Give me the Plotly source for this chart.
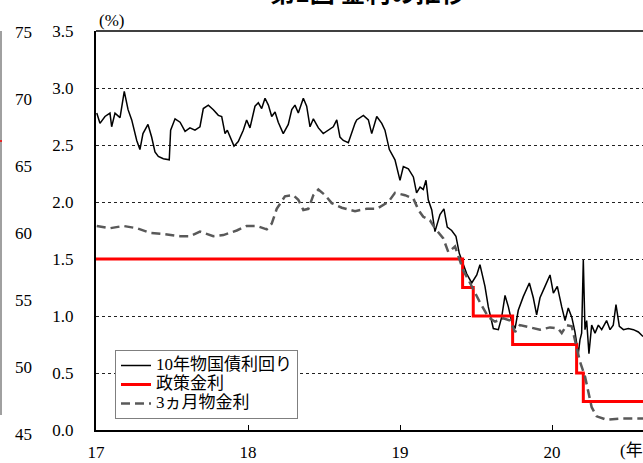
import plotly.graph_objects as go

# ---- data (decimal years, %) ----
bond_t = [2017.005, 2017.026, 2017.059, 2017.092, 2017.103, 2017.125, 2017.158, 2017.169, 2017.186, 2017.211,
          2017.235, 2017.268, 2017.289, 2017.309, 2017.342, 2017.366, 2017.388, 2017.410, 2017.443, 2017.482,
          2017.491, 2017.520, 2017.553, 2017.586, 2017.618, 2017.651, 2017.684, 2017.706, 2017.739, 2017.772,
          2017.805, 2017.827, 2017.849, 2017.864, 2017.893, 2017.908, 2017.936, 2017.969, 2017.991, 2018.013,
          2018.046, 2018.068, 2018.090, 2018.112, 2018.134, 2018.156, 2018.178, 2018.199, 2018.232, 2018.265,
          2018.288, 2018.309, 2018.331, 2018.364, 2018.386, 2018.408, 2018.430, 2018.463, 2018.495, 2018.528,
          2018.561, 2018.584, 2018.605, 2018.627, 2018.660, 2018.704, 2018.715, 2018.759, 2018.792, 2018.814,
          2018.847, 2018.880, 2018.901, 2018.930, 2018.967, 2019.000, 2019.022, 2019.055, 2019.088, 2019.109,
          2019.132, 2019.153, 2019.171, 2019.186, 2019.209, 2019.230, 2019.263, 2019.289, 2019.311, 2019.340,
          2019.368, 2019.390, 2019.416, 2019.439, 2019.472, 2019.505, 2019.526, 2019.559, 2019.581, 2019.614,
          2019.647, 2019.669, 2019.691, 2019.713, 2019.735, 2019.757, 2019.778, 2019.811, 2019.851, 2019.877,
          2019.899, 2019.921, 2019.954, 2019.987, 2020.009, 2020.035, 2020.064, 2020.086, 2020.107, 2020.130,
          2020.151, 2020.173, 2020.184, 2020.195, 2020.206, 2020.217, 2020.228, 2020.243, 2020.261, 2020.283,
          2020.305, 2020.327, 2020.359, 2020.382, 2020.403, 2020.421, 2020.443, 2020.470, 2020.502, 2020.536,
          2020.568, 2020.599]
bond_10y = [2.78, 2.69, 2.75, 2.78, 2.66, 2.78, 2.74, 2.82, 2.97, 2.81,
            2.72, 2.54, 2.46, 2.60, 2.68, 2.57, 2.44, 2.40, 2.38, 2.37,
            2.63, 2.73, 2.70, 2.62, 2.65, 2.63, 2.66, 2.82, 2.85, 2.81,
            2.76, 2.75, 2.60, 2.63, 2.53, 2.49, 2.53, 2.63, 2.72, 2.65,
            2.84, 2.87, 2.82, 2.91, 2.85, 2.75, 2.79, 2.70, 2.60, 2.68,
            2.81, 2.85, 2.78, 2.91, 2.84, 2.66, 2.73, 2.65, 2.60, 2.63,
            2.66, 2.72, 2.57, 2.54, 2.52, 2.69, 2.72, 2.76, 2.72, 2.60,
            2.75, 2.69, 2.63, 2.46, 2.37, 2.19, 2.31, 2.29, 2.22, 2.08,
            2.13, 2.11, 2.19, 2.02, 1.93, 1.74, 1.89, 1.94, 1.78, 1.75,
            1.70, 1.55, 1.46, 1.37, 1.29, 1.36, 1.45, 1.26, 1.08, 0.89,
            0.88, 0.99, 1.18, 1.08, 0.95, 0.89, 1.05, 1.17, 1.29, 1.16,
            1.01, 1.16, 1.26, 1.36, 1.20, 1.26, 1.08, 0.96, 1.07, 0.99,
            0.86, 0.67, 0.79, 0.85, 1.49, 0.88, 0.96, 0.67, 0.92, 0.85,
            0.92, 0.88, 0.96, 0.88, 0.92, 1.10, 0.91, 0.88, 0.89, 0.88,
            0.86, 0.82]

policy_t = [2017.0, 2019.412, 2019.482, 2019.741, 2020.162, 2020.206, 2020.599]
policy_rate = [1.50, 1.25, 1.00, 0.75, 0.50, 0.25, 0.25]

bill_t = [2017.005, 2017.092, 2017.180, 2017.268, 2017.355, 2017.443, 2017.553, 2017.618, 2017.684, 2017.772,
          2017.838, 2017.926, 2017.991, 2018.057, 2018.123, 2018.156, 2018.189, 2018.243, 2018.298, 2018.331,
          2018.364, 2018.397, 2018.430, 2018.463, 2018.507, 2018.551, 2018.617, 2018.704, 2018.781, 2018.847,
          2018.923, 2018.967, 2019.033, 2019.088, 2019.121, 2019.153, 2019.197, 2019.230, 2019.285, 2019.318,
          2019.362, 2019.384, 2019.416, 2019.449, 2019.493, 2019.526, 2019.581, 2019.625, 2019.680, 2019.724,
          2019.757, 2019.789, 2019.855, 2019.921, 2019.987, 2020.041, 2020.064, 2020.097, 2020.130, 2020.151,
          2020.184, 2020.217, 2020.239, 2020.261, 2020.294, 2020.359, 2020.447, 2020.535, 2020.599]
bill_3m = [1.79, 1.77, 1.79, 1.77, 1.73, 1.72, 1.70, 1.70, 1.74, 1.70,
           1.71, 1.75, 1.79, 1.79, 1.76, 1.81, 1.94, 2.05, 2.06, 2.02,
           1.93, 1.94, 2.06, 2.11, 2.06, 1.99, 1.95, 1.92, 1.94, 1.94,
           2.00, 2.08, 2.06, 2.03, 1.93, 1.87, 1.84, 1.77, 1.68, 1.56,
           1.61, 1.52, 1.40, 1.32, 1.20, 1.12, 0.99, 0.95, 0.98, 0.96,
           0.86, 0.92, 0.90, 0.88, 0.90, 0.89, 0.85, 0.92, 0.91, 0.79,
           0.60, 0.47, 0.32, 0.20, 0.12, 0.09, 0.10, 0.10, 0.10]

names = ["10年物国債利回り", "政策金利", "3ヵ月物金利"]
x_tickvals = [2017, 2018, 2019, 2020]
x_ticktext = ["17", "18", "19", "20"]
y_tickvals = [0.0, 0.5, 1.0, 1.5, 2.0, 2.5, 3.0, 3.5]
y_ticktext = ["0.0", "0.5", "1.0", "1.5", "2.0", "2.5", "3.0", "3.5"]
side_ticks = [75, 70, 65, 60, 55, 50, 45]  # labels of the neighbouring (cropped) chart

FONT = "Liberation Serif, Times New Roman, Noto Sans CJK JP, serif"

W, H = 643, 463
ML, MT, MB = 96, 31, 33
PW, PH = W - ML, H - MT - MB

def legend_label(s):
    return '<span style="font-size:17px">' + s + '</span>'

fig = go.Figure()
fig.add_trace(go.Scatter(x=bond_t, y=bond_10y, mode="lines", name=legend_label(names[0]),
                         line=dict(color="#000000", width=1.5)))
fig.add_trace(go.Scatter(x=policy_t, y=policy_rate, mode="lines", name=legend_label(names[1]),
                         line=dict(color="#ff0000", width=3, shape="hv")))
fig.add_trace(go.Scatter(x=bill_t, y=bill_3m, mode="lines", name=legend_label(names[2]),
                         line=dict(color="#595959", width=2.5, dash="9px,5px")))

def px_to_paper_x(px):
    return (px - ML) / PW

def px_to_paper_y(py):
    return (H - MB - py) / PH

annotations = [
    dict(text="(%)", x=px_to_paper_x(97), y=px_to_paper_y(21), xref="paper", yref="paper",
         xanchor="left", yanchor="middle", showarrow=False, font=dict(family=FONT, size=17, color="#000")),
    dict(text="(年)", x=px_to_paper_x(618), y=px_to_paper_y(450), xref="paper", yref="paper",
         xanchor="left", yanchor="middle", showarrow=False, font=dict(family=FONT, size=17, color="#000")),
    dict(text="<b>第1図 金利の推移</b>", x=px_to_paper_x(367), y=px_to_paper_y(11), xref="paper", yref="paper",
         xanchor="center", yanchor="bottom", showarrow=False,
         font=dict(family="Noto Sans CJK JP, sans-serif", size=25, color="#000")),
]
for v in side_ticks:
    py = 32 + (75 - v) * 13.4
    annotations.append(dict(text=str(v), x=px_to_paper_x(34), y=px_to_paper_y(py), xref="paper", yref="paper",
                            xanchor="right", yanchor="middle", showarrow=False,
                            font=dict(family=FONT, size=17, color="#000")))

shapes = [
    dict(type="line", xref="paper", yref="paper", x0=0, x1=1, y0=1, y1=1,
         line=dict(color="#000000", width=1.5)),
    dict(type="line", xref="paper", yref="paper", x0=px_to_paper_x(1), x1=px_to_paper_x(1),
         y0=px_to_paper_y(31), y1=px_to_paper_y(415), line=dict(color="#808080", width=1.5)),
    dict(type="line", xref="paper", yref="paper", x0=px_to_paper_x(0), x1=px_to_paper_x(2),
         y0=px_to_paper_y(141), y1=px_to_paper_y(141), line=dict(color="#ff0000", width=1.5)),
]

fig.update_layout(
    width=W, height=H,
    margin=dict(l=ML, r=0, t=MT, b=MB, pad=0, autoexpand=False),
    paper_bgcolor="white", plot_bgcolor="white",
    font=dict(family=FONT, size=17, color="#000"),
    showlegend=True,
    legend=dict(x=px_to_paper_x(115), y=px_to_paper_y(350), xanchor="left", yanchor="top",
                bgcolor="white", bordercolor="#7f7f7f", borderwidth=1,
                font=dict(family=FONT, size=12, color="#000"),
                itemwidth=30, tracegroupgap=0),
    annotations=annotations,
    shapes=shapes,
    xaxis=dict(range=[2017, 2017 + PW / 152.0], tickvals=x_tickvals, ticktext=x_ticktext,
               automargin=False,
               showgrid=False, zeroline=False, showline=True, linecolor="#000", linewidth=2,
               ticks="inside", ticklen=5, tickwidth=1, tickcolor="#000",
               ticklabelstandoff=6, tickfont=dict(family=FONT, size=17)),
    yaxis=dict(range=[0, 3.5], tickvals=y_tickvals, ticktext=y_ticktext,
               automargin=False,
               showgrid=True, gridcolor="#222222", gridwidth=1, griddash="dot",
               zeroline=False, showline=True, linecolor="#000", linewidth=2,
               ticks="", ticklabelstandoff=17, tickfont=dict(family=FONT, size=17)),
)

fig.write_html("out.html", config={"displayModeBar": False},
               post_script="document.body.style.margin='0';document.body.style.overflow='hidden';")
